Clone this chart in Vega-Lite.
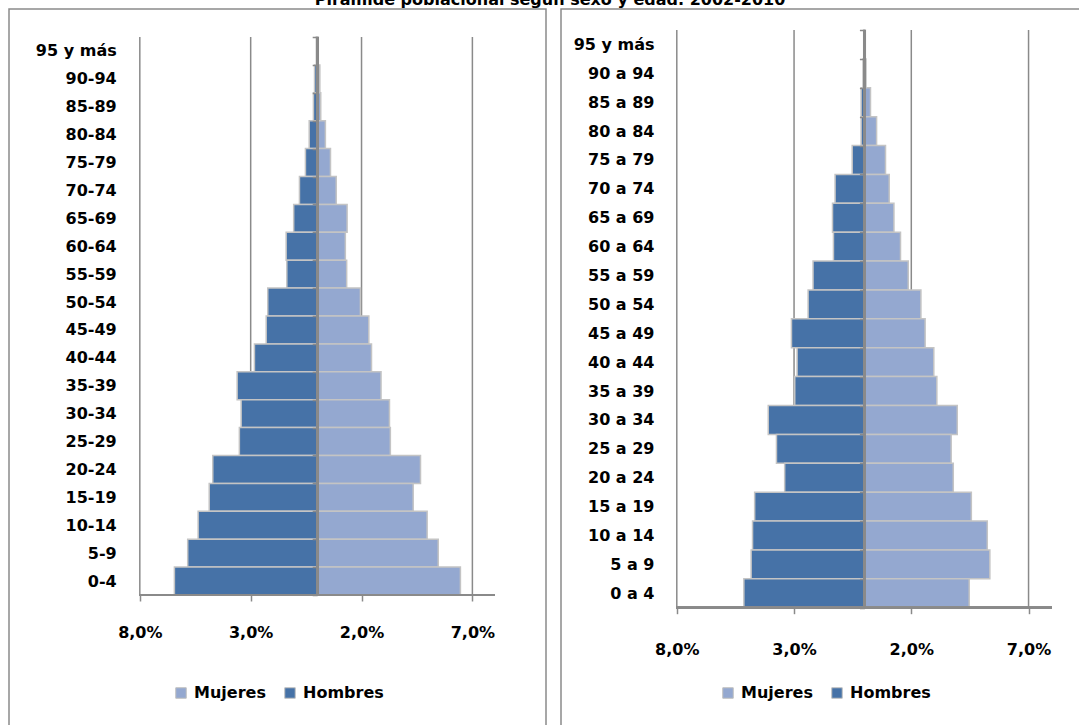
{
  "$schema": "https://vega.github.io/schema/vega-lite/v6.json",
  "background": "white",
  "padding": {"left": 8, "top": -8, "right": 0, "bottom": 0},
  "title": {"text": "Pirámide poblacional según sexo y edad. 2002-2010", "font": "DejaVu Sans", "fontSize": 16, "fontWeight": "bold", "color": "black", "anchor": "middle", "offset": -8},
  "datasets": {
    "izq": [
      {"edad": "95 y más", "sexo": "Hombres", "pct": -0.04}, {"edad": "95 y más", "sexo": "Mujeres", "pct": 0.05},
      {"edad": "90-94", "sexo": "Hombres", "pct": -0.12}, {"edad": "90-94", "sexo": "Mujeres", "pct": 0.12},
      {"edad": "85-89", "sexo": "Hombres", "pct": -0.17}, {"edad": "85-89", "sexo": "Mujeres", "pct": 0.16},
      {"edad": "80-84", "sexo": "Hombres", "pct": -0.36}, {"edad": "80-84", "sexo": "Mujeres", "pct": 0.37},
      {"edad": "75-79", "sexo": "Hombres", "pct": -0.53}, {"edad": "75-79", "sexo": "Mujeres", "pct": 0.60},
      {"edad": "70-74", "sexo": "Hombres", "pct": -0.80}, {"edad": "70-74", "sexo": "Mujeres", "pct": 0.86},
      {"edad": "65-69", "sexo": "Hombres", "pct": -1.06}, {"edad": "65-69", "sexo": "Mujeres", "pct": 1.35},
      {"edad": "60-64", "sexo": "Hombres", "pct": -1.40}, {"edad": "60-64", "sexo": "Mujeres", "pct": 1.27},
      {"edad": "55-59", "sexo": "Hombres", "pct": -1.37}, {"edad": "55-59", "sexo": "Mujeres", "pct": 1.33},
      {"edad": "50-54", "sexo": "Hombres", "pct": -2.23}, {"edad": "50-54", "sexo": "Mujeres", "pct": 1.95},
      {"edad": "45-49", "sexo": "Hombres", "pct": -2.30}, {"edad": "45-49", "sexo": "Mujeres", "pct": 2.33},
      {"edad": "40-44", "sexo": "Hombres", "pct": -2.83}, {"edad": "40-44", "sexo": "Mujeres", "pct": 2.45},
      {"edad": "35-39", "sexo": "Hombres", "pct": -3.61}, {"edad": "35-39", "sexo": "Mujeres", "pct": 2.88},
      {"edad": "30-34", "sexo": "Hombres", "pct": -3.43}, {"edad": "30-34", "sexo": "Mujeres", "pct": 3.26},
      {"edad": "25-29", "sexo": "Hombres", "pct": -3.51}, {"edad": "25-29", "sexo": "Mujeres", "pct": 3.30},
      {"edad": "20-24", "sexo": "Hombres", "pct": -4.71}, {"edad": "20-24", "sexo": "Mujeres", "pct": 4.66},
      {"edad": "15-19", "sexo": "Hombres", "pct": -4.87}, {"edad": "15-19", "sexo": "Mujeres", "pct": 4.33},
      {"edad": "10-14", "sexo": "Hombres", "pct": -5.37}, {"edad": "10-14", "sexo": "Mujeres", "pct": 4.96},
      {"edad": "5-9", "sexo": "Hombres", "pct": -5.84}, {"edad": "5-9", "sexo": "Mujeres", "pct": 5.46},
      {"edad": "0-4", "sexo": "Hombres", "pct": -6.44}, {"edad": "0-4", "sexo": "Mujeres", "pct": 6.46}
    ],
    "der": [
      {"edad": "95 y más", "sexo": "Hombres", "pct": -0.03}, {"edad": "95 y más", "sexo": "Mujeres", "pct": 0.04},
      {"edad": "90 a 94", "sexo": "Hombres", "pct": -0.06}, {"edad": "90 a 94", "sexo": "Mujeres", "pct": 0.07},
      {"edad": "85 a 89", "sexo": "Hombres", "pct": -0.14}, {"edad": "85 a 89", "sexo": "Mujeres", "pct": 0.26},
      {"edad": "80 a 84", "sexo": "Hombres", "pct": -0.14}, {"edad": "80 a 84", "sexo": "Mujeres", "pct": 0.52},
      {"edad": "75 a 79", "sexo": "Hombres", "pct": -0.52}, {"edad": "75 a 79", "sexo": "Mujeres", "pct": 0.90},
      {"edad": "70 a 74", "sexo": "Hombres", "pct": -1.25}, {"edad": "70 a 74", "sexo": "Mujeres", "pct": 1.06},
      {"edad": "65 a 69", "sexo": "Hombres", "pct": -1.36}, {"edad": "65 a 69", "sexo": "Mujeres", "pct": 1.26},
      {"edad": "60 a 64", "sexo": "Hombres", "pct": -1.32}, {"edad": "60 a 64", "sexo": "Mujeres", "pct": 1.54},
      {"edad": "55 a 59", "sexo": "Hombres", "pct": -2.19}, {"edad": "55 a 59", "sexo": "Mujeres", "pct": 1.87},
      {"edad": "50 a 54", "sexo": "Hombres", "pct": -2.40}, {"edad": "50 a 54", "sexo": "Mujeres", "pct": 2.41},
      {"edad": "45 a 49", "sexo": "Hombres", "pct": -3.11}, {"edad": "45 a 49", "sexo": "Mujeres", "pct": 2.59},
      {"edad": "40 a 44", "sexo": "Hombres", "pct": -2.87}, {"edad": "40 a 44", "sexo": "Mujeres", "pct": 2.96},
      {"edad": "35 a 39", "sexo": "Hombres", "pct": -2.97}, {"edad": "35 a 39", "sexo": "Mujeres", "pct": 3.09},
      {"edad": "30 a 34", "sexo": "Hombres", "pct": -4.10}, {"edad": "30 a 34", "sexo": "Mujeres", "pct": 3.96},
      {"edad": "25 a 29", "sexo": "Hombres", "pct": -3.75}, {"edad": "25 a 29", "sexo": "Mujeres", "pct": 3.70},
      {"edad": "20 a 24", "sexo": "Hombres", "pct": -3.40}, {"edad": "20 a 24", "sexo": "Mujeres", "pct": 3.79},
      {"edad": "15 a 19", "sexo": "Hombres", "pct": -4.68}, {"edad": "15 a 19", "sexo": "Mujeres", "pct": 4.56},
      {"edad": "10 a 14", "sexo": "Hombres", "pct": -4.77}, {"edad": "10 a 14", "sexo": "Mujeres", "pct": 5.24},
      {"edad": "5 a 9", "sexo": "Hombres", "pct": -4.83}, {"edad": "5 a 9", "sexo": "Mujeres", "pct": 5.35},
      {"edad": "0 a 4", "sexo": "Hombres", "pct": -5.14}, {"edad": "0 a 4", "sexo": "Mujeres", "pct": 4.47}
    ],
    "marcas": [{"pos": -8}, {"pos": -3}, {"pos": 2}, {"pos": 7}]
  },
  "spacing": 13,
  "resolve": {"scale": {"x": "independent", "y": "independent", "color": "independent"}, "legend": {"color": "independent"}},
  "hconcat": [
    {
      "width": 537,
      "height": 740,
      "layer": [
        {
          "data": {"name": "marcas"},
          "mark": {"type": "rule", "color": "#8a8a8a", "strokeWidth": 1.5},
          "encoding": {
            "x": {"field": "pos", "type": "quantitative", "title": null},
            "y": {"datum": "95 y más", "type": "nominal", "bandPosition": 0},
            "y2": {"datum": "0-4", "bandPosition": 1}
          }
        },
        {
          "data": {"name": "izq"},
          "mark": {"type": "bar", "stroke": "#c4c4c4", "strokeWidth": 1.5},
          "encoding": {
            "y": {
              "field": "edad", "type": "nominal", "title": null,
              "scale": {"domain": ["95 y más", "90-94", "85-89", "80-84", "75-79", "70-74", "65-69", "60-64", "55-59", "50-54", "45-49", "40-44", "35-39", "30-34", "25-29", "20-24", "15-19", "10-14", "5-9", "0-4"], "paddingInner": 0, "paddingOuter": 0, "range": [28, 586]},
              "axis": {"orient": "left", "offset": -308.2, "domain": false, "ticks": true, "tickBand": "extent", "tickSize": 5, "tickColor": "#8a8a8a", "tickWidth": 1.5, "labelPadding": 196, "labelFontSize": 16, "labelFontWeight": "bold", "labelColor": "black", "grid": false, "zindex": 1}
            },
            "x": {
              "field": "pct", "type": "quantitative", "stack": null, "title": null,
              "scale": {"domain": [-13.9, 10.32], "nice": false, "zero": false},
              "axis": {"orient": "bottom", "offset": -154, "values": [-8, -3, 2, 7], "domain": false, "grid": false, "tickSize": 6, "tickColor": "#8a8a8a", "tickWidth": 1.5, "labelPadding": 23, "labelFontSize": 16, "labelFontWeight": "bold", "labelColor": "black", "labelExpr": "replace(format(abs(datum.value), '.1f'), '.', ',') + '%'", "zindex": 1}
            },
            "color": {
              "field": "sexo", "type": "nominal",
              "scale": {"domain": ["Mujeres", "Hombres"], "range": ["#94A8D0", "#4672A7"]},
              "legend": {"orient": "none", "legendX": 164, "legendY": 676, "direction": "horizontal", "title": null, "symbolType": "square", "symbolSize": 110, "symbolStrokeColor": "#bfbfbf", "symbolStrokeWidth": 1, "labelFontSize": 16, "labelFontWeight": "bold", "labelColor": "black", "labelOffset": 5, "columnPadding": 16}
            }
          }
        },
        {
          "data": {"name": "izq"},
          "mark": {"type": "rule", "color": "#8a8a8a", "strokeWidth": 2},
          "encoding": {
            "x": {"datum": 0, "type": "quantitative"},
            "y": {"datum": "95 y más", "type": "nominal", "bandPosition": 0},
            "y2": {"datum": "0-4", "bandPosition": 1}
          }
        },
        {
          "data": {"name": "izq"},
          "mark": {"type": "rule", "color": "#8a8a8a", "strokeWidth": 2},
          "encoding": {
            "x": {"datum": -8, "type": "quantitative"},
            "x2": {"datum": 8},
            "y": {"datum": "0-4", "type": "nominal", "bandPosition": 1}
          }
        }
      ]
    },
    {
      "width": 530,
      "height": 740,
      "layer": [
        {
          "data": {"name": "marcas"},
          "mark": {"type": "rule", "color": "#8a8a8a", "strokeWidth": 1.5},
          "encoding": {
            "x": {"field": "pos", "type": "quantitative", "title": null},
            "y": {"datum": "95 y más", "type": "nominal", "bandPosition": 0},
            "y2": {"datum": "0 a 4", "bandPosition": 1}
          }
        },
        {
          "data": {"name": "der"},
          "mark": {"type": "bar", "stroke": "#c4c4c4", "strokeWidth": 1.5},
          "encoding": {
            "y": {
              "field": "edad", "type": "nominal", "title": null,
              "scale": {"domain": ["95 y más", "90 a 94", "85 a 89", "80 a 84", "75 a 79", "70 a 74", "65 a 69", "60 a 64", "55 a 59", "50 a 54", "45 a 49", "40 a 44", "35 a 39", "30 a 34", "25 a 29", "20 a 24", "15 a 19", "10 a 14", "5 a 9", "0 a 4"], "paddingInner": 0, "paddingOuter": 0, "range": [21, 598.7]},
              "axis": {"orient": "left", "offset": -303.4, "domain": false, "ticks": true, "tickBand": "extent", "tickSize": 5, "tickColor": "#8a8a8a", "tickWidth": 1.5, "labelPadding": 205.4, "labelFontSize": 16, "labelFontWeight": "bold", "labelColor": "black", "grid": false, "zindex": 1}
            },
            "x": {
              "field": "pct", "type": "quantitative", "stack": null, "title": null,
              "scale": {"domain": [-12.938, 9.663], "nice": false, "zero": false},
              "axis": {"orient": "bottom", "offset": -141.3, "values": [-8, -3, 2, 7], "domain": false, "grid": false, "tickSize": 6, "tickColor": "#8a8a8a", "tickWidth": 1.5, "labelPadding": 28, "labelFontSize": 16, "labelFontWeight": "bold", "labelColor": "black", "labelExpr": "replace(format(abs(datum.value), '.1f'), '.', ',') + '%'", "zindex": 1}
            },
            "color": {
              "field": "sexo", "type": "nominal",
              "scale": {"domain": ["Mujeres", "Hombres"], "range": ["#94A8D0", "#4672A7"]},
              "legend": {"orient": "none", "legendX": 159, "legendY": 676, "direction": "horizontal", "title": null, "symbolType": "square", "symbolSize": 110, "symbolStrokeColor": "#bfbfbf", "symbolStrokeWidth": 1, "labelFontSize": 16, "labelFontWeight": "bold", "labelColor": "black", "labelOffset": 5, "columnPadding": 16}
            }
          }
        },
        {
          "data": {"name": "der"},
          "mark": {"type": "rule", "color": "#8a8a8a", "strokeWidth": 2},
          "encoding": {
            "x": {"datum": 0, "type": "quantitative"},
            "y": {"datum": "95 y más", "type": "nominal", "bandPosition": 0},
            "y2": {"datum": "0 a 4", "bandPosition": 1}
          }
        },
        {
          "data": {"name": "der"},
          "mark": {"type": "rule", "color": "#8a8a8a", "strokeWidth": 2},
          "encoding": {
            "x": {"datum": -8, "type": "quantitative"},
            "x2": {"datum": 8},
            "y": {"datum": "0 a 4", "type": "nominal", "bandPosition": 1}
          }
        }
      ]
    }
  ],
  "config": {
    "font": "DejaVu Sans",
    "view": {"stroke": "#8a8a8a", "strokeWidth": 1.5},
    "axis": {"labelFont": "DejaVu Sans"},
    "legend": {"labelFont": "DejaVu Sans"}
  }
}
